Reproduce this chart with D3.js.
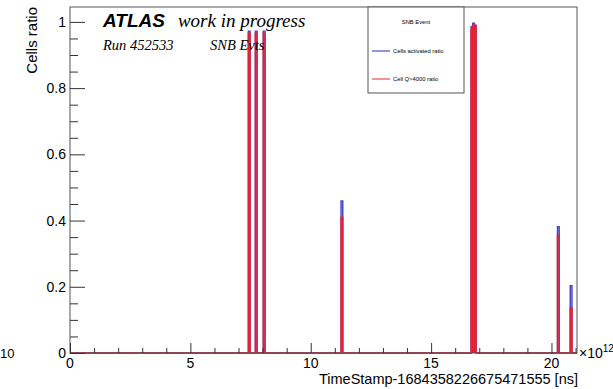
<!DOCTYPE html>
<html>
<head>
<meta charset="utf-8">
<script src="https://cdn.jsdelivr.net/npm/d3@7"></script>
<style>
  html, body { margin: 0; padding: 0; background: #fff; }
  svg { display: block; }
</style>
</head>
<body>
<svg id="chart" width="613" height="389"></svg>
<script>
// Timestamp axis in units of 1e12 ns; each entry is the lower edge of a non-empty bin
const binWidth = 0.07;
const binLow = [7.41, 7.7, 8.03, 11.26, 16.66, 16.73, 16.8, 20.25, 20.78];
// Fraction of cells activated per bin
const activatedRatio = [0.972, 0.972, 0.972, 0.459, 0.985, 0.996, 0.99, 0.381, 0.203];
// Fraction of cells with charge above 4000 per bin
const highQRatio = [0.966, 0.966, 0.966, 0.41, 0.978, 0.99, 0.985, 0.356, 0.136];

const xDomain = [0, 21.06];
const yDomain = [0, 1.045];
const xMajorTicks = [0, 5, 10, 15, 20];
const yMajorTicks = [0, 0.2, 0.4, 0.6, 0.8, 1];

const svg = d3.select("#chart");
const padL = 70, padR = 577, padT = 7, padB = 353;

const x = d3.scaleLinear().domain(xDomain).range([padL, padR]);
const y = d3.scaleLinear().domain(yDomain).range([padB, padT]);

// Step outline of a histogram, zero everywhere except the listed bins
function histPath(vals) {
  const pts = [[xDomain[0], 0]];
  binLow.forEach((lo, i) => {
    pts.push([lo, 0], [lo, vals[i]], [lo + binWidth, vals[i]], [lo + binWidth, 0]);
  });
  pts.push([xDomain[1], 0]);
  return d3.line().x(d => x(d[0])).y(d => y(d[1]))(pts);
}

const plot = svg.append("g");

plot.append("path")
  .attr("d", histPath(activatedRatio))
  .attr("fill", "none")
  .attr("stroke", "#4848c8")
  .attr("stroke-width", 1.5);

plot.append("path")
  .attr("d", histPath(highQRatio))
  .attr("fill", "none")
  .attr("stroke", "#f01c24")
  .attr("stroke-opacity", 0.92)
  .attr("stroke-width", 1.5);

// Frame
svg.append("rect")
  .attr("x", padL).attr("y", padT)
  .attr("width", padR - padL).attr("height", padB - padT)
  .attr("fill", "none").attr("stroke", "#555").attr("stroke-width", 1);

const font = "'Liberation Sans', Arial, Helvetica, sans-serif";
const serif = "'Liberation Serif', 'Times New Roman', serif";

// Y axis: ticks pointing inward
const yAxis = d3.axisRight(y).tickValues(d3.range(0, 1.0001, 0.05)).tickSize(8).tickFormat("");
const yg = svg.append("g").attr("transform", `translate(${padL},0)`).call(yAxis);
yg.select(".domain").remove();
yg.selectAll(".tick line")
  .attr("stroke", "#333")
  .attr("x2", d => (Math.abs(d * 5 - Math.round(d * 5)) < 1e-6 ? 15 : 8));
yMajorTicks.forEach(v => {
  svg.append("text")
    .attr("x", padL - 4).attr("y", y(v) + 5)
    .attr("text-anchor", "end")
    .attr("font-family", font).attr("font-size", 14)
    .text(d3.format("~g")(v));
});

// X axis: ticks pointing upward
const xAxis = d3.axisTop(x).tickValues(d3.range(0, 21.01, 1)).tickSize(5).tickFormat("");
const xg = svg.append("g").attr("transform", `translate(0,${padB})`).call(xAxis);
xg.select(".domain").remove();
xg.selectAll(".tick line")
  .attr("stroke", "#333")
  .attr("y2", d => (d % 5 === 0 ? -10 : -5));
xMajorTicks.forEach(v => {
  svg.append("text")
    .attr("x", x(v)).attr("y", padB + 15)
    .attr("text-anchor", "middle")
    .attr("font-family", font).attr("font-size", 14)
    .text(v);
});

// Axis titles
svg.append("text")
  .attr("x", padR + 1).attr("y", 384)
  .attr("text-anchor", "end")
  .attr("font-family", font).attr("font-size", 14.5)
  .text("TimeStamp-1684358226675471555 [ns]");

svg.append("text")
  .attr("transform", `translate(37,${padT}) rotate(-90)`)
  .attr("text-anchor", "end")
  .attr("font-family", font).attr("font-size", 15)
  .text("Cells ratio");

// Exponent labels
const ex = svg.append("text")
  .attr("x", padR + 2).attr("y", padB + 5)
  .attr("font-family", font).attr("font-size", 14);
ex.append("tspan").text("\u00d710");
ex.append("tspan").attr("dy", -6).attr("font-size", 10).text("12");

const ey = svg.append("text")
  .attr("x", 0).attr("y", padB + 5)
  .attr("font-family", font).attr("font-size", 13);
ey.append("tspan").text("10");
ey.append("tspan").attr("dy", -7).attr("font-size", 4).text("\u00b7");

// Experiment labels
const atl = svg.append("text").attr("x", 103).attr("y", 27);
atl.append("tspan")
  .attr("font-family", font).attr("font-weight", "bold").attr("font-style", "italic")
  .attr("font-size", 19).text("ATLAS");
atl.append("tspan")
  .attr("dx", 13)
  .attr("font-family", serif).attr("font-style", "italic")
  .attr("font-size", 19).text("work in progress");

svg.append("text")
  .attr("x", 103).attr("y", 50)
  .attr("font-family", serif).attr("font-style", "italic").attr("font-size", 14.5)
  .text("Run 452533");
svg.append("text")
  .attr("x", 210).attr("y", 50)
  .attr("font-family", serif).attr("font-style", "italic").attr("font-size", 14.5)
  .text("SNB Evts");

// Legend
const lg = svg.append("g");
lg.append("rect")
  .attr("x", 368).attr("y", 7).attr("width", 96).attr("height", 86)
  .attr("fill", "#fff").attr("stroke", "#555").attr("stroke-width", 1);
lg.append("text")
  .attr("x", 416).attr("y", 24)
  .attr("text-anchor", "middle")
  .attr("font-family", font).attr("font-size", 5.8)
  .text("SNB Event");
const legendItems = [
  { label: "Cells activated ratio", color: "#4848c8", yy: 51 },
  { label: "Cell Q>4000 ratio", color: "#e84a52", yy: 79 }
];
legendItems.forEach(d => {
  lg.append("line")
    .attr("x1", 372).attr("x2", 390).attr("y1", d.yy).attr("y2", d.yy)
    .attr("stroke", d.color).attr("stroke-width", 1.2);
  lg.append("text")
    .attr("x", 393).attr("y", d.yy + 2)
    .attr("font-family", font).attr("font-size", 5.8)
    .text(d.label);
});
</script>
</body>
</html>
